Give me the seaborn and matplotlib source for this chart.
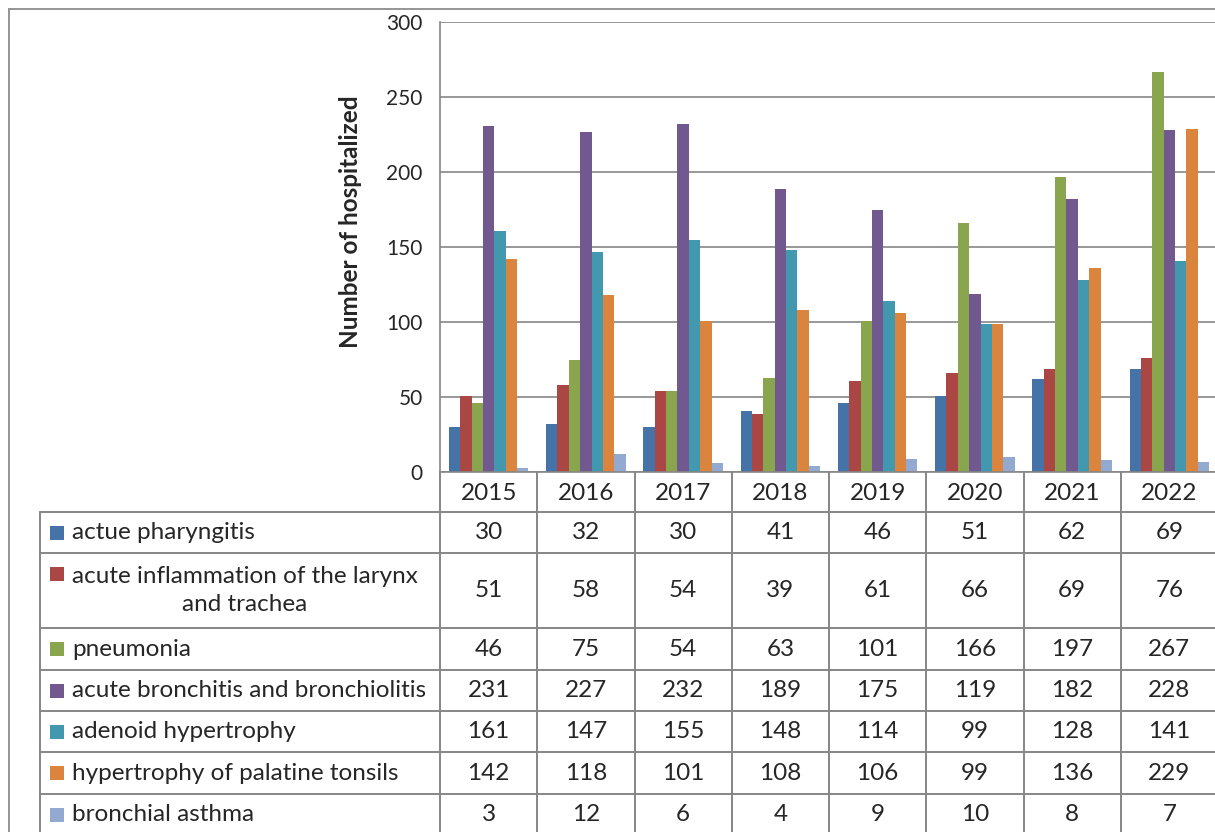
import numpy as np
import pandas as pd
import seaborn as sns
import matplotlib.pyplot as plt
from matplotlib.lines import Line2D

# Datos: hospitalizaciones por año y diagnóstico
years = ["2015", "2016", "2017", "2018", "2019", "2020", "2021", "2022"]
diseases = [
    "actue pharyngitis",
    "acute inflammation of the larynx\nand trachea",
    "pneumonia",
    "acute bronchitis and bronchiolitis",
    "adenoid hypertrophy",
    "hypertrophy of palatine tonsils",
    "bronchial asthma",
]
pharyngitis = [30, 32, 30, 41, 46, 51, 62, 69]
larynx_trachea = [51, 58, 54, 39, 61, 66, 69, 76]
pneumonia = [46, 75, 54, 63, 101, 166, 197, 267]
bronchitis = [231, 227, 232, 189, 175, 119, 182, 228]
adenoid = [161, 147, 155, 148, 114, 99, 128, 141]
tonsils = [142, 118, 101, 108, 106, 99, 136, 229]
asthma = [3, 12, 6, 4, 9, 10, 8, 7]
series = [pharyngitis, larynx_trachea, pneumonia, bronchitis, adenoid, tonsils, asthma]

colors = ["#4572A7", "#AA4643", "#89A54E", "#71588F", "#4198AF", "#DB843D", "#93A9CF"]

df = pd.DataFrame(
    [(y, d, v) for d, vals in zip(diseases, series) for y, v in zip(years, vals)],
    columns=["year", "disease", "count"],
)

sns.set_style("white")
plt.rcParams["font.family"] = ["Lato", "DejaVu Sans"]

W, H = 1215, 832
GRID = "#868686"
FS = 17.5
fig = plt.figure(figsize=(W / 100, H / 100), dpi=100)

# Área del gráfico de barras (en píxeles)
x0, x1 = 440, 1218
y_top, y_zero = 22, 472
ax = fig.add_axes([x0 / W, (H - y_zero) / H, (x1 - x0) / W, (y_zero - y_top) / H])
sns.barplot(data=df, x="year", y="count", hue="disease", palette=colors,
            width=0.817, saturation=1, legend=False, linewidth=0, ax=ax)
ax.set_xlim(-0.5, 7.5)
ax.set_ylim(0, 300)
ax.set_yticks(np.arange(0, 301, 50))
ax.yaxis.grid(True, color=GRID, linewidth=1.2)
ax.set_axisbelow(True)
ax.set_xticks([])
ax.set_xlabel("")
ax.set_ylabel("Number of hospitalized", fontsize=17.5, fontweight="bold")
ax.yaxis.set_label_coords(-0.1003, 0.556)
for s in ["top", "right"]:
    ax.spines[s].set_visible(False)
for s in ["left", "bottom"]:
    ax.spines[s].set_color(GRID)
    ax.spines[s].set_linewidth(1.2)
ax.tick_params(axis="y", length=4.5, width=1.2, color=GRID, labelsize=15, pad=8)

# Tabla de datos debajo del gráfico
col_w = (x1 - x0) / 8
lab_w = (x0 - 40) / col_w
row_h = [40, 41, 75, 42, 41, 41, 42, 41]
bounds = np.concatenate([[0], np.cumsum(row_h)])
total = bounds[-1]
tab = fig.add_axes([40 / W, (H - y_zero - total) / H, (x1 - 40) / W, total / H])
tab.set_xlim(-0.5 - lab_w, 7.5)
tab.set_ylim(total, 0)
tab.axis("off")

xl = -0.5 - lab_w
for b in bounds[1:]:
    tab.plot([xl, 7.5], [b, b], color=GRID, lw=1.4, clip_on=False)
for k in range(9):
    tab.plot([k - 0.5, k - 0.5], [0, total], color=GRID, lw=1.4, clip_on=False)
tab.plot([xl, xl], [bounds[1], total], color=GRID, lw=1.4, clip_on=False)

for i, y in enumerate(years):
    tab.text(i, (bounds[0] + bounds[1]) / 2 + 1, y, ha="center", va="center", fontsize=FS)

text_x = xl + 32 / col_w
sw_x = xl + 16.5 / col_w
for r, (d, vals, c) in enumerate(zip(diseases, series, colors)):
    top, bot = bounds[r + 1], bounds[r + 2]
    mid = (top + bot) / 2
    if "\n" in d:
        sw_y = top + 21
        tab.text(text_x, mid, d, ha="left", va="center", multialignment="center",
                 fontsize=FS, linespacing=1.45)
    else:
        sw_y = mid
        tab.text(text_x, mid, d, ha="left", va="center", fontsize=FS)
    tab.scatter([sw_x], [sw_y], marker="s", s=88, color=c, linewidths=0, clip_on=False)
    for i, v in enumerate(vals):
        tab.text(i, mid, str(v), ha="center", va="center", fontsize=FS)

# Borde exterior del área del gráfico
fig.add_artist(Line2D([9 / W, 9 / W], [0, 1 - 9 / H], color="#8c8c8c", lw=1.3))
fig.add_artist(Line2D([9 / W, 1], [1 - 9 / H, 1 - 9 / H], color="#8c8c8c", lw=1.3))

fig.savefig("out.png", dpi=100)
